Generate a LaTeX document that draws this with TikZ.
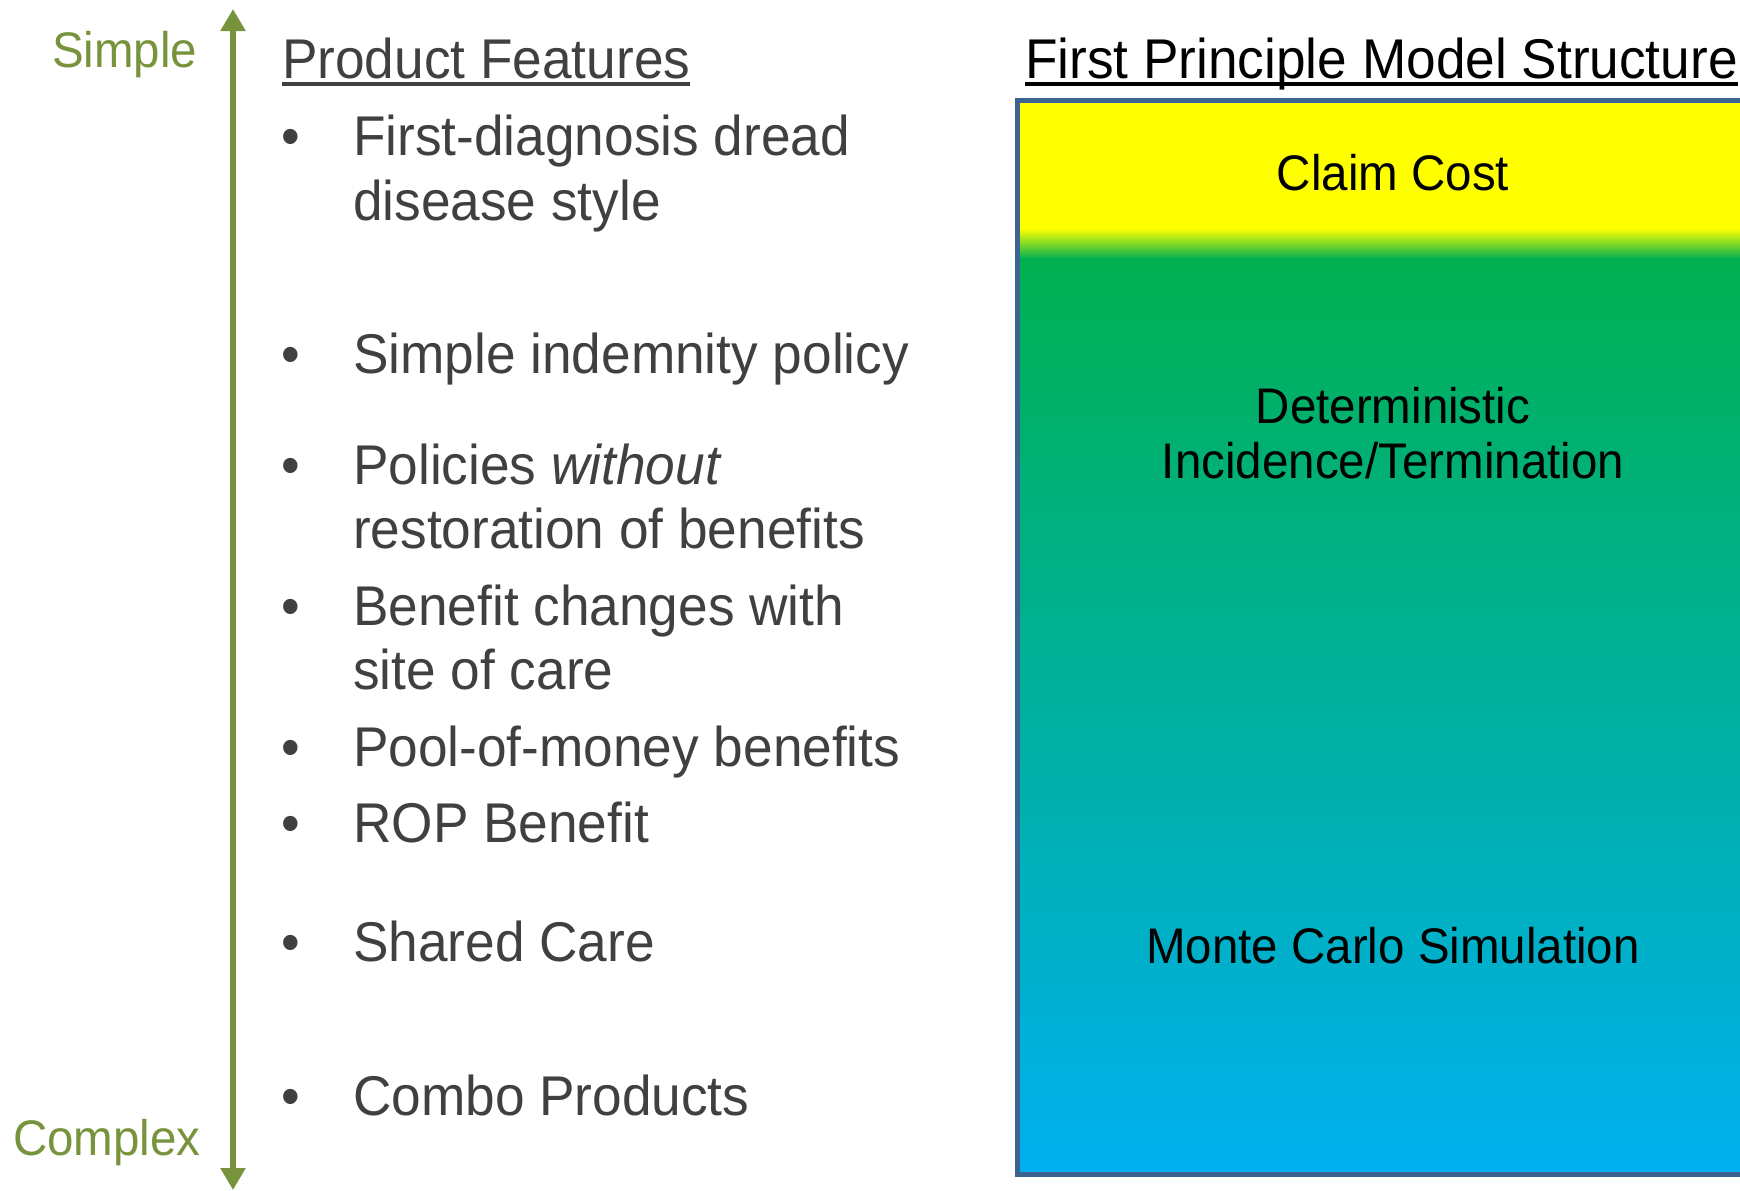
\documentclass[tikz,border=0pt]{standalone}
\usepackage{fontspec}
\setmainfont[FakeStretch=0.95]{Liberation Sans}
\usetikzlibrary{arrows.meta}

\definecolor{axisgreen}{RGB}{119,147,60}
\definecolor{textgray}{RGB}{64,64,64}
\definecolor{boxblue}{RGB}{60,100,145}
\definecolor{gradyellow}{RGB}{255,255,0}
\definecolor{gradgreen}{RGB}{0,176,80}
\definecolor{gradblue}{RGB}{0,176,240}

\begin{document}
\begin{tikzpicture}[x=1pt,y=-1pt,
  bigfont/.style={font=\fontsize{56}{64}\selectfont},
  smallfont/.style={font=\fontsize{50}{56}\selectfont},
  header/.style={bigfont,anchor=base west,inner sep=0pt},
  feat/.style={bigfont,anchor=base west,inner sep=0pt,text=textgray},
  dot/.style={bigfont,anchor=base,inner sep=0pt,text=textgray},
  level/.style={smallfont,anchor=base west,inner sep=0pt,text=axisgreen},
  stage/.style={smallfont,anchor=base,inner sep=0pt,text=black},
  rule/.style={line width=4pt}]

\path[use as bounding box] (0,0) rectangle (1740,1191);

% complexity axis
\coordinate (axtop) at (233,9);
\coordinate (axbot) at (233,1190);
\draw[axisgreen,line width=5.5pt,
  arrows={Triangle[width=24pt,length=22pt]-Triangle[width=24pt,length=22pt]}]
  (axbot) -- (axtop);
\node[level] (simple) at (52,67) {Simple};
\node[level] (complex) at (13,1155) {Complex};

% left column
\node[header,text=textgray] (pf) at (282,78) {Product Features};
\draw[rule,textgray] ([yshift=-6pt]pf.base west) -- ([yshift=-6pt]pf.base east);

\node[dot] (b1) at (291,155) {•};
\node[feat] (f1) at (353,155) {First-diagnosis dread};
\node[feat] (f1b) at (353,220) {disease style};

\node[dot] (b2) at (291,373) {•};
\node[feat] (f2) at (353,373) {Simple indemnity policy};

\node[dot] (b3) at (291,484) {•};
\node[feat] (f3) at (353,484) {Policies \textit{without}};
\node[feat] (f3b) at (353,548) {restoration of benefits};

\node[dot] (b4) at (291,625) {•};
\node[feat] (f4) at (353,625) {Benefit changes with};
\node[feat] (f4b) at (353,689) {site of care};

\node[dot] (b5) at (291,766) {•};
\node[feat] (f5) at (353,766) {Pool-of-money benefits};

\node[dot] (b6) at (291,842) {•};
\node[feat] (f6) at (353,842) {ROP Benefit};

\node[dot] (b7) at (291,961) {•};
\node[feat] (f7) at (353,961) {Shared Care};

\node[dot] (b8) at (291,1115) {•};
\node[feat] (f8) at (353,1115) {Combo Products};

% right column: model structure panel
\node[header,text=black] (fp) at (1025,78) {First Principle Model Structure};
\draw[rule,black] ([yshift=-6pt]fp.base west) -- ([yshift=-6pt]fp.base east);

\begin{scope}
  \clip (0,0) rectangle (1740,1191);
  \fill[gradyellow] (1017,100) rectangle (1790,229);
  \shade[top color=gradyellow,bottom color=gradgreen] (1017,228) rectangle (1790,259);
  \shade[top color=gradgreen,bottom color=gradblue] (1017,258) rectangle (1790,1174);
  \draw[boxblue,line width=5pt] (1017,100) rectangle (1790,1174);
\end{scope}

\node[stage] (cc) at (1393,190) {Claim Cost};
\node[stage] (det) at (1393,423) {Deterministic};
\node[stage] (inc) at (1393,478) {Incidence/Termination};
\node[stage] (mc) at (1393,963) {Monte Carlo Simulation};

\end{tikzpicture}
\end{document}
